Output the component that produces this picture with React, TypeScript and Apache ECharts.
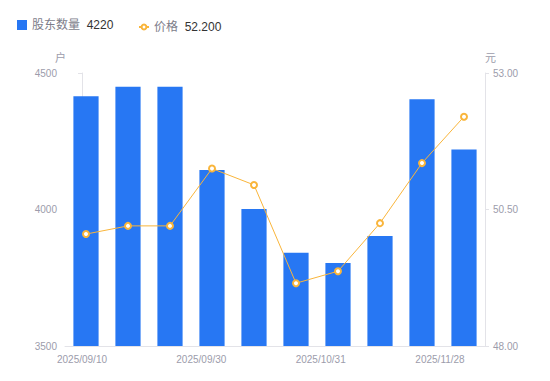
import React, { useEffect, useRef } from "react";
import * as echarts from "echarts";

const categories = [
  "2025/09/10", "2025/09/17", "2025/09/24", "2025/09/30", "2025/10/15",
  "2025/10/24", "2025/10/31", "2025/11/10", "2025/11/20", "2025/11/28",
];
const holders = [4415, 4450, 4450, 4145, 4002, 3842, 3804, 3903, 4404, 4220];
const prices = [50.05, 50.2, 50.2, 51.25, 50.95, 49.15, 49.37, 50.25, 51.35, 52.2];
const xTickLabels = ["2025/09/10", "2025/09/30", "2025/10/31", "2025/11/28"];

export default function App() {
  const ref = useRef<HTMLDivElement>(null);
  useEffect(() => {
    document.body.style.margin = "0";
    if (!ref.current) return;
    const chart = echarts.init(ref.current, null, { renderer: "svg" });
    const labelColor = "#9c9cab";
    const axisLineColor = "#e3e3e8";
    const font = "'Liberation Sans', Arial, 'Noto Sans CJK SC', sans-serif";
    const legendFormatter = (name: string) => {
      const v = name === "股东数量" ? String(holders[holders.length - 1]) : prices[prices.length - 1].toFixed(3);
      return `{n|${name}}  {v|${v}}`;
    };
    const legendText = {
      rich: {
        n: { color: "#7d7d8a", fontSize: 12, fontFamily: font },
        v: { color: "#333333", fontSize: 12, fontFamily: font },
      },
    };
    chart.setOption({
      animation: false,
      textStyle: { fontFamily: font },
      legend: [
        {
          left: 12,
          top: 14,
          itemWidth: 10,
          itemHeight: 10,
          data: [{ name: "股东数量", icon: "rect" }],
          formatter: legendFormatter,
          textStyle: legendText,
        },
        {
          left: 133,
          top: 16,
          itemWidth: 10,
          itemHeight: 6,
          data: [{ name: "价格" }],
          formatter: legendFormatter,
          textStyle: legendText,
        },
      ],
      grid: { left: 65, right: 65, top: 73, bottom: 35 },
      xAxis: [
        {
          type: "category",
          data: categories,
          axisLine: { lineStyle: { color: axisLineColor } },
          axisTick: { show: false },
          axisLabel: { show: false },
        },
        {
          type: "value",
          position: "bottom",
          min: -0.1425,
          max: 3.377,
          axisLine: { show: false },
          axisTick: { show: false },
          splitLine: { show: false },
          axisLabel: {
            customValues: [0, 1, 2, 3],
            color: labelColor,
            fontSize: 10,
            margin: 8,
            formatter: (v: number) => xTickLabels[Math.round(v)] ?? "",
          },
        },
      ],
      yAxis: [
        {
          type: "value",
          name: "户",
          nameGap: 10,
          min: 3500,
          max: 4500,
          interval: 500,
          nameTextStyle: { color: labelColor, fontSize: 11, align: "right", padding: [0, 16, 0, 0] },
          axisLine: { show: true, lineStyle: { color: axisLineColor } },
          axisTick: { show: true, length: 4, lineStyle: { color: axisLineColor } },
          splitLine: { show: false },
          axisLabel: { color: labelColor, fontSize: 10, formatter: (v: number) => String(v) },
        },
        {
          type: "value",
          name: "元",
          nameGap: 10,
          min: 48,
          max: 53,
          interval: 2.5,
          position: "right",
          nameTextStyle: { color: labelColor, fontSize: 11, align: "left" },
          axisLine: { show: true, lineStyle: { color: axisLineColor } },
          axisTick: { show: true, length: 4, lineStyle: { color: axisLineColor } },
          splitLine: { show: false },
          axisLabel: { color: labelColor, fontSize: 10, formatter: (v: number) => v.toFixed(2) },
        },
      ],
      series: [
        {
          name: "股东数量",
          type: "bar",
          xAxisIndex: 0,
          yAxisIndex: 0,
          barWidth: "60%",
          data: holders,
          itemStyle: { color: "#2777f3" },
        },
        {
          name: "价格",
          type: "line",
          xAxisIndex: 0,
          yAxisIndex: 1,
          data: prices,
          symbol: "circle",
          symbolSize: 6,
          lineStyle: { color: "#f9b53b", width: 1 },
          itemStyle: { color: "#ffffff", borderColor: "#f9b53b", borderWidth: 2 },
        },
      ],
    });
    return () => chart.dispose();
  }, []);
  return <div ref={ref} style={{ width: 550, height: 381 }} />;
}
